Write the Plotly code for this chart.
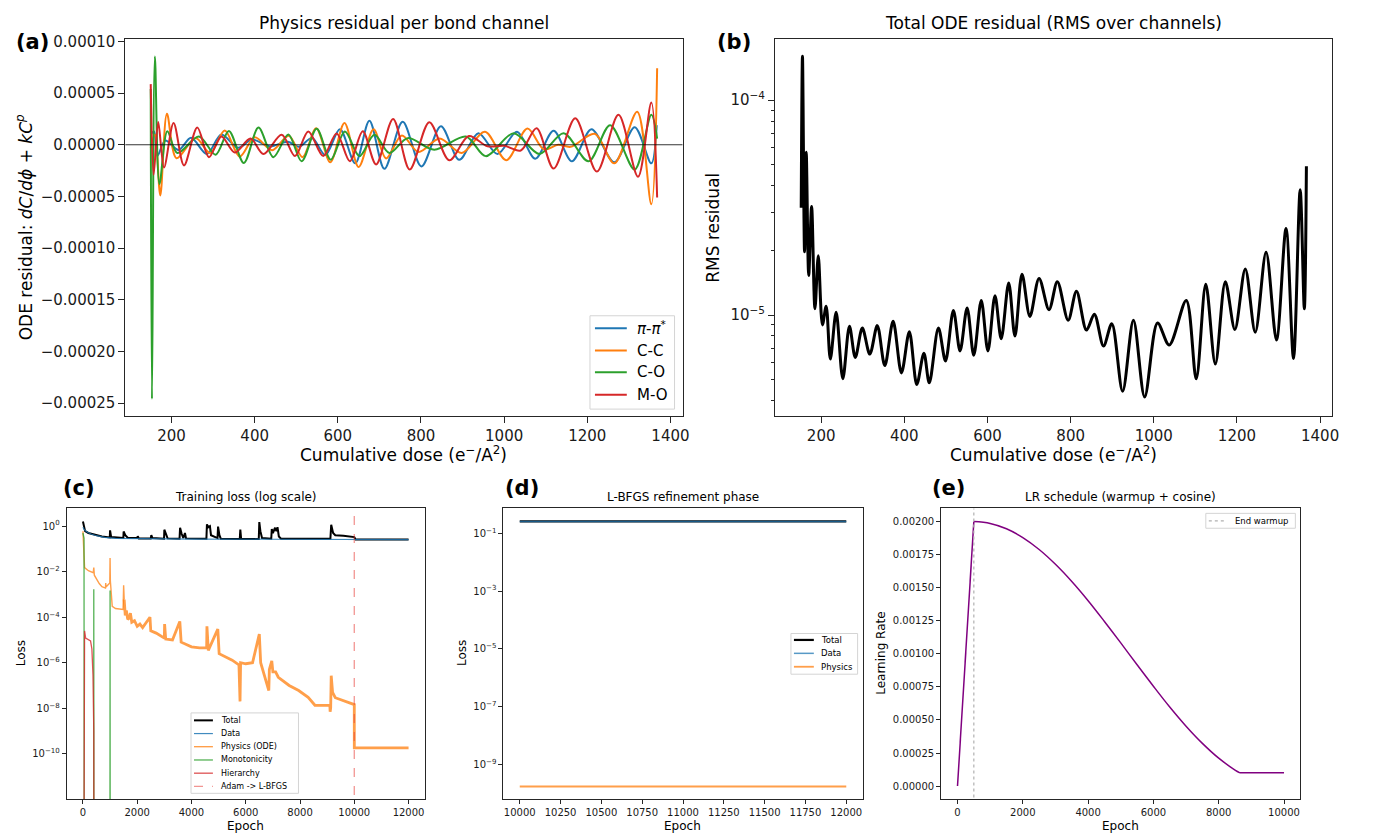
import plotly.graph_objects as go

W, H = 1374, 840
FONT = "DejaVu Sans"
RES_UNIT = 1e-5  # panel (a) values are listed in units of 1e-5

# ---------------- Panel (a): ODE residual per bond channel (x 1e-5) ----------------
pipi_dose = [150, 158, 166, 185, 217, 247, 285, 320, 360, 394, 437, 480, 506, 538, 570, 605, 642, 676,
             712, 756, 801, 848, 892, 938, 984, 1031, 1075, 1119, 1163, 1210, 1265, 1314, 1354, 1367]
pipi_res = [1.0, 1.3, -1.1, 0.4, -0.5, 0.67, -0.9, 1.0, -0.3, 0.5, -0.16, 0.3, -0.2, 0.65, -1.0, 1.5, -1.8, 2.33,
            -2.33, 2.23, -2.1, 1.8, -1.45, 1.12, -0.9, 1.25, -1.35, 1.35, -1.6, 1.5, -1.7, 1.7, -1.8, 1.9]

cc_dose = [150, 160, 173, 189, 212, 258, 293, 328, 364, 400, 442, 482, 515, 548, 582, 616, 650, 686, 716,
           754, 794, 845, 898, 954, 1005, 1056, 1096, 1130, 1160, 1218, 1265, 1320, 1354, 1368]
cc_res = [-0.3, 1.0, -4.9, 3.0, -1.3, 0.65, -0.8, 1.37, -1.15, 0.72, -0.52, 0.88, -1.2, 1.6, -1.7, 2.1, -2.15,
          1.5, -1.32, 0.9, -0.7, 0.6, -0.8, 1.25, -1.5, 1.57, -0.45, 0.0, -0.2, 1.06, -1.8, 3.2, -5.76, 7.4]

co_dose = [150, 153, 160, 171, 190, 214, 266, 306, 338, 374, 409, 445, 481, 513, 549, 583, 617, 652, 688,
           724, 768, 832, 908, 956, 1023, 1085, 1143, 1203, 1255, 1314, 1354, 1368]
co_res = [5.4, -24.6, 8.55, -3.8, 1.3, -0.8, 0.8, -0.96, 1.34, -1.76, 1.66, -1.2, 1.0, -1.6, 1.54, -1.44, 1.28,
          -1.1, 0.96, -0.8, 0.64, -0.48, 0.8, -1.1, 1.12, -0.9, 1.12, -1.6, 1.9, -2.4, 2.9, 0.6]

mo_dose = [150, 157, 168, 182, 205, 230, 262, 290, 320, 352, 390, 421, 465, 497, 529, 565, 597, 629, 660, 692,
           733, 773, 820, 868, 915, 960, 1000, 1040, 1078, 1119, 1171, 1223, 1275, 1322, 1354, 1368]
mo_res = [5.87, -2.9, 2.2, -2.2, 2.1, -2.0, 1.66, -1.2, 0.8, -0.75, 0.6, -0.9, 0.96, -1.1, 1.28, -1.1, 1.1, -1.6,
          1.3, -1.9, 2.5, -2.4, 2.18, -1.5, 0.85, -0.15, -0.1, -0.55, 1.6, -2.3, 2.56, -2.6, 2.9, -3.1, 4.1, -5.1]

channel_names = ["<i>π</i>-<i>π</i><sup>*</sup>", "C-C", "C-O", "M-O"]
channel_colors = ["#1f77b4", "#ff7f0e", "#2ca02c", "#d62728"]

# ---------------- Panel (b): RMS residual ----------------
rms_dose = [152, 155, 160, 164, 170, 177, 185, 193, 203, 212, 222, 236, 252, 268, 282, 299, 317, 335, 353, 373,
            393, 412, 430, 447, 460, 482, 499, 518, 534, 551, 567, 585, 601, 618, 633, 651, 666, 683, 702, 724,
            748, 768, 794, 814, 838, 857, 879, 899, 925, 951, 978, 1009, 1037, 1078, 1102, 1125, 1148, 1172, 1195,
            1220, 1244, 1270, 1295, 1318, 1336, 1352, 1362, 1367]
rms_vals = [3.16e-5, 1.60e-4, 1.97e-5, 5.73e-5, 1.53e-5, 3.2e-5, 1.07e-5, 1.89e-5, 9.0e-6, 1.1e-5, 6.24e-6,
            1.03e-5, 5.05e-6, 8.87e-6, 6.35e-6, 8.7e-6, 6.58e-6, 8.93e-6, 5.82e-6, 9.35e-6, 5.38e-6, 8.36e-6,
            4.75e-6, 6.65e-6, 4.84e-6, 8.7e-6, 6.12e-6, 1.05e-5, 6.81e-6, 1.08e-5, 6.5e-6, 1.17e-5, 6.81e-6,
            1.23e-5, 7.76e-6, 1.41e-5, 7.98e-6, 1.55e-5, 9.86e-6, 1.48e-5, 1.06e-5, 1.43e-5, 9.46e-6, 1.29e-5,
            8.51e-6, 1.01e-5, 7.18e-6, 9.12e-6, 4.42e-6, 9.46e-6, 4.16e-6, 9.19e-6, 7.26e-6, 1.17e-5, 5.05e-6,
            1.39e-5, 5.92e-6, 1.43e-5, 8.57e-6, 1.64e-5, 8.32e-6, 1.96e-5, 7.66e-6, 2.53e-5, 6.28e-6, 3.83e-5,
            1.07e-5, 4.93e-5]

# ---------------- Panel (c): training loss ----------------
total_epoch = [0, 30, 80, 200, 400, 700, 990, 1000, 1040, 1490, 1500, 1560, 1650, 2000, 2020, 2060, 2500, 2520,
               2560, 2990, 3000, 3060, 3120, 3560, 3580, 3640, 3700, 3760, 3800, 4550, 4570, 4620, 4680, 4720,
               4960, 4980, 5030, 5080, 5780, 5800, 5830, 6480, 6500, 6540, 6600, 6940, 6960, 7000, 7080, 7130,
               7170, 7220, 7300, 9120, 9150, 9220, 9300, 9600, 9990, 10000, 10050, 12000]
total_loss = [1.6, 1.0, 0.6, 0.5, 0.42, 0.35, 0.32, 0.65, 0.33, 0.3, 0.58, 0.4, 0.31, 0.3, 0.36, 0.29, 0.29, 0.4,
              0.3, 0.28, 0.7, 0.4, 0.29, 0.28, 0.85, 0.45, 0.3, 0.5, 0.29, 0.28, 1.2, 0.9, 1.0, 0.4, 0.3, 0.95,
              0.4, 0.28, 0.27, 0.7, 0.28, 0.27, 1.5, 0.6, 0.3, 0.28, 0.75, 0.5, 0.85, 0.6, 0.9, 0.35, 0.28, 0.28,
              1.15, 0.5, 0.4, 0.38, 0.35, 0.33, 0.26, 0.26]

data_epoch = [0, 50, 150, 300, 500, 800, 1200, 2000, 4000, 7000, 10000, 12000]
data_loss = [0.9, 0.7, 0.55, 0.45, 0.38, 0.32, 0.29, 0.28, 0.27, 0.265, 0.26, 0.255]

phys_epoch_early = [0, 30, 60, 200, 380, 400, 420, 600, 700, 830, 840, 850, 990, 1000, 1010, 1080, 1200, 1480,
                    1500, 1520]
phys_loss_early = [0.6, 0.1, 0.015, 0.011, 0.009, 0.015, 0.007, 0.003, 0.0022, 0.0019, 0.0032, 0.0021, 0.0032,
                   0.04, 0.004, 0.0003, 0.00024, 0.00022, 0.0025, 0.0006]
phys_epoch_late = [1520, 1560, 1600, 1650, 1700, 1750, 1800, 1900, 2000, 2100, 2200, 2470, 2500, 2700, 3000, 3010,
                   3050, 3300, 3570, 3620, 4000, 4300, 4560, 4570, 4620, 4970, 5020, 5500, 5750, 5790, 5810,
                   6000, 6250, 6500, 6550, 6600, 6850, 6870, 6960, 7000, 7100, 7200, 7600, 7950, 8300, 8550,
                   9100, 9110, 9130, 9150, 9200, 9300, 9700, 10000, 10001, 12000]
phys_loss_late = [0.0006, 1.2e-4, 2e-4, 8e-5, 9e-5, 1.5e-4, 6e-5, 7e-5, 4e-5, 5e-5, 3.5e-5, 1e-4, 2.5e-5, 2e-5,
                  1.2e-5, 5e-5, 1.1e-5, 1.0e-5, 6.5e-5, 8e-6, 5e-6, 4.5e-6, 4.5e-6, 4e-5, 3.5e-6, 3e-5, 2.5e-6,
                  1.3e-6, 8e-7, 2e-8, 1e-6, 9e-7, 1e-6, 1.8e-5, 1e-6, 6e-7, 6e-8, 5e-7, 1.2e-6, 4e-7, 4e-7,
                  2.3e-7, 1e-7, 6e-8, 3e-8, 1.35e-8, 1.35e-8, 7e-9, 1e-8, 2.7e-7, 5e-8, 2.9e-8, 2e-8, 1.45e-8,
                  1.8e-10, 1.8e-10]

mono_epoch = [0, 40, 50, 390, 400, 410, 990, 1000, 1010, 12000]
mono_loss = [0.5, 0.3, 1e-30, 1e-30, 1.7e-3, 1e-30, 1e-30, 1.5e-3, 1e-30, 1e-30]

hier_epoch = [0, 60, 100, 200, 280, 330, 370, 400, 420, 12000]
hier_loss = [1e-30, 2.5e-5, 1.2e-5, 1.0e-5, 9e-6, 4e-6, 3e-7, 1e-9, 1e-30, 1e-30]

switch_epoch = 10000

# ---------------- Panel (d): L-BFGS phase ----------------
lbfgs_epoch = [10000, 10500, 11000, 11500, 12000]
lbfgs_total = [0.257, 0.257, 0.257, 0.257, 0.257]
lbfgs_data = [0.256, 0.256, 0.256, 0.256, 0.256]
lbfgs_phys = [1.75e-10, 1.75e-10, 1.75e-10, 1.75e-10, 1.75e-10]

# ---------------- Panel (e): LR schedule ----------------
lr_epoch = [0, 500, 1000, 1500, 2000, 2500, 3000, 3500, 4000, 4500, 5000, 5500, 6000, 6500, 7000, 7500, 8000,
            8500, 8650, 9000, 9500, 10000]
lr_value = [0.0, 0.002, 0.001986, 0.001946, 0.001879, 0.001789, 0.001677, 0.001547, 0.001402, 0.001245,
            0.001083, 0.000917, 0.000755, 0.000598, 0.000453, 0.000323, 0.000211, 0.000121, 0.0001, 0.0001,
            0.0001, 0.0001]
warmup_end = 500
cosine_end = 8650

# tick labels
a_yt = [-0.00025, -0.0002, -0.00015, -0.0001, -0.00005, 0.0, 0.00005, 0.0001]
a_ytxt = ["−0.00025", "−0.00020", "−0.00015", "−0.00010", "−0.00005", "0.00000", "0.00005", "0.00010"]
dose_ticks = [200, 400, 600, 800, 1000, 1200, 1400]
c_xt = [0, 2000, 4000, 6000, 8000, 10000, 12000]
d_xt = [10000, 10250, 10500, 10750, 11000, 11250, 11500, 11750, 12000]
e_xt = [0, 2000, 4000, 6000, 8000, 10000]
e_yt = [0, 0.00025, 0.0005, 0.00075, 0.001, 0.00125, 0.0015, 0.00175, 0.002]
e_ytxt = ["0.00000", "0.00025", "0.00050", "0.00075", "0.00100", "0.00125", "0.00150", "0.00175", "0.00200"]
b_minor = [4e-6, 5e-6, 6e-6, 7e-6, 8e-6, 9e-6, 2e-5, 3e-5, 4e-5, 5e-5, 6e-5, 7e-5, 8e-5, 9e-5]

# ---------------- helpers ----------------
def px(x):
    return x / W

def py(y):
    return 1 - y / H

AX = "#262626"

def axis(dom, rng, fs, tlen, **kw):
    d = dict(domain=dom, range=rng, showline=True, linecolor=AX, linewidth=1, mirror=True,
             ticks="outside", ticklen=tlen, tickwidth=1, tickcolor=AX, showgrid=False, zeroline=False,
             tickfont=dict(family=FONT, size=fs, color="#1a1a1a"))
    d.update(kw)
    return d

def sup_ticks(exps):
    return [f"10<sup>{'−' if e < 0 else ''}{abs(e)}</sup>" for e in exps]

fig = go.Figure()

# (a)
for name, col, xs, ys in zip(channel_names, channel_colors,
                             [pipi_dose, cc_dose, co_dose, mo_dose],
                             [pipi_res, cc_res, co_res, mo_res]):
    fig.add_trace(go.Scatter(x=xs, y=[v * RES_UNIT for v in ys], mode="lines", name=name, showlegend=False,
                             line=dict(color=col, width=2, shape="spline", smoothing=0.9),
                             xaxis="x", yaxis="y"))

# (b)
fig.add_trace(go.Scatter(x=rms_dose, y=rms_vals, mode="lines", showlegend=False,
                         line=dict(color="black", width=3, shape="spline", smoothing=0.9),
                         xaxis="x2", yaxis="y2"))

# (c)
C_TOTAL = dict(color="black", width=2)
C_DATA = dict(color="#1f77b4", width=1.2)
C_PHYS = dict(color="#ff7f0e", width=1.4)
C_MONO = dict(color="#2ca02c", width=1.3)
C_HIER = dict(color="#d62728", width=1.3)
C_SW = dict(color="#e8403a", width=1.3, dash="dash")

fig.add_trace(go.Scatter(x=total_epoch, y=total_loss, mode="lines", name="Total", showlegend=False,
                         line=C_TOTAL, xaxis="x3", yaxis="y3"))
fig.add_trace(go.Scatter(x=data_epoch, y=data_loss, mode="lines", name="Data", opacity=0.85, showlegend=False,
                         line=C_DATA, xaxis="x3", yaxis="y3"))
fig.add_trace(go.Scatter(x=phys_epoch_early, y=phys_loss_early, mode="lines", name="Physics (ODE)",
                         opacity=0.75, showlegend=False, line=C_PHYS, xaxis="x3", yaxis="y3"))
fig.add_trace(go.Scatter(x=phys_epoch_late, y=phys_loss_late, mode="lines", name="Physics (ODE)",
                         opacity=0.75, showlegend=False, line=dict(color="#ff7f0e", width=2.8),
                         xaxis="x3", yaxis="y3"))
fig.add_trace(go.Scatter(x=mono_epoch, y=mono_loss, mode="lines", name="Monotonicity", opacity=0.8,
                         showlegend=False, line=C_MONO, xaxis="x3", yaxis="y3"))
fig.add_trace(go.Scatter(x=hier_epoch, y=hier_loss, mode="lines", name="Hierarchy", opacity=0.8,
                         showlegend=False, line=C_HIER, xaxis="x3", yaxis="y3"))
fig.add_trace(go.Scatter(x=[switch_epoch, switch_epoch], y=[1e-30, 1e5], mode="lines", name="Adam -> L-BFGS",
                         opacity=0.55, showlegend=False, line=C_SW, xaxis="x3", yaxis="y3"))

# (d)
fig.add_trace(go.Scatter(x=lbfgs_epoch, y=lbfgs_total, mode="lines", name="Total", showlegend=False,
                         line=dict(color="black", width=2.2), xaxis="x4", yaxis="y4"))
fig.add_trace(go.Scatter(x=lbfgs_epoch, y=lbfgs_data, mode="lines", name="Data", opacity=0.75, showlegend=False,
                         line=dict(color="#1f77b4", width=1.5), xaxis="x4", yaxis="y4"))
fig.add_trace(go.Scatter(x=lbfgs_epoch, y=lbfgs_phys, mode="lines", name="Physics", opacity=0.75,
                         showlegend=False, line=dict(color="#ff7f0e", width=1.8), xaxis="x4", yaxis="y4"))

# (e) warmup (linear), cosine decay (smooth), plateau (linear)
i_w = lr_epoch.index(warmup_end)
i_c = lr_epoch.index(cosine_end)
LR_LINE = dict(color="purple", width=1.5)
fig.add_trace(go.Scatter(x=lr_epoch[:i_w + 1], y=lr_value[:i_w + 1], mode="lines", showlegend=False,
                         line=LR_LINE, xaxis="x5", yaxis="y5"))
fig.add_trace(go.Scatter(x=lr_epoch[i_w:i_c + 1], y=lr_value[i_w:i_c + 1], mode="lines", showlegend=False,
                         line=dict(color="purple", width=1.5, shape="spline", smoothing=1.0),
                         xaxis="x5", yaxis="y5"))
fig.add_trace(go.Scatter(x=lr_epoch[i_c:], y=lr_value[i_c:], mode="lines", showlegend=False,
                         line=LR_LINE, xaxis="x5", yaxis="y5"))
fig.add_trace(go.Scatter(x=[warmup_end, warmup_end], y=[-1, 1], mode="lines", name="End warmup",
                         showlegend=False, line=dict(color="#b0b0b0", width=1.2, dash="dot"),
                         xaxis="x5", yaxis="y5"))

# ---------------- layout ----------------
top_y = [py(413), py(33)]
bot_y = [py(799), py(506)]

fig.update_layout(
    width=W, height=H, margin=dict(l=0, r=0, t=0, b=0),
    paper_bgcolor="white", plot_bgcolor="white", showlegend=False,
    font=dict(family=FONT, color="#1a1a1a"),
    xaxis=axis([px(126), px(686)], [89, 1429], 15, 6, anchor="y",
               tickvals=dose_ticks, ticktext=[str(v) for v in dose_ticks]),
    yaxis=axis(top_y, [-0.0002626, 0.0001026], 15, 6, anchor="x", tickvals=a_yt, ticktext=a_ytxt),
    xaxis2=axis([px(779), px(1339)], [89, 1429], 15, 6, anchor="y2",
                tickvals=dose_ticks, ticktext=[str(v) for v in dose_ticks]),
    yaxis2=axis(top_y, [-5.47, -3.714], 15, 6, anchor="x2", type="log",
                tickvals=[1e-5, 1e-4], ticktext=sup_ticks([-5, -4]),
                minor=dict(tickmode="array", tickvals=b_minor, ticks="outside", ticklen=3.5,
                           tickwidth=0.8, tickcolor=AX)),
    xaxis3=axis([px(67), px(427)], [-600, 12600], 10, 4, anchor="y3",
                tickvals=c_xt, ticktext=[str(v) for v in c_xt]),
    yaxis3=axis(bot_y, [-12.0, 0.78], 10, 4, anchor="x3", type="log",
                tickvals=[1e-10, 1e-8, 1e-6, 1e-4, 1e-2, 1],
                ticktext=sup_ticks([-10, -8, -6, -4, -2, 0])),
    xaxis4=axis([px(506), px(867)], [9900, 12100], 10, 4, anchor="y4",
                tickvals=d_xt, ticktext=[str(v) for v in d_xt]),
    yaxis4=axis(bot_y, [-10.2, -0.14], 10, 4, anchor="x4", type="log",
                tickvals=[1e-9, 1e-7, 1e-5, 1e-3, 1e-1],
                ticktext=sup_ticks([-9, -7, -5, -3, -1])),
    xaxis5=axis([px(946), px(1307)], [-500, 10500], 10, 4, anchor="y5",
                tickvals=e_xt, ticktext=[str(v) for v in e_xt]),
    yaxis5=axis(bot_y, [-0.0001, 0.0021], 10, 4, anchor="x5", tickvals=e_yt, ticktext=e_ytxt),
)

# zero line in (a)
fig.add_shape(type="line", xref="x domain", yref="y", x0=0, x1=1, y0=0, y1=0,
              line=dict(color="black", width=0.8))

def text(x, y, s, size, bold=False, angle=0, xanchor="center"):
    fig.add_annotation(x=px(x), y=py(y), xref="paper", yref="paper", text=f"<b>{s}</b>" if bold else s,
                       showarrow=False, textangle=angle, xanchor=xanchor, yanchor="middle",
                       font=dict(family=FONT, size=size, color="black"))

def legend_box(x0, y0, x1, y1, sx0, sx1, tx, rows, labels, styles, size):
    fig.add_shape(type="rect", xref="paper", yref="paper", x0=px(x0), x1=px(x1), y0=py(y1), y1=py(y0),
                  line=dict(color="#d4d4d4", width=1), fillcolor="rgba(255,255,255,0.85)", layer="above")
    for ry, lab, st in zip(rows, labels, styles):
        st = dict(st)
        op = st.pop("opacity", 1.0)
        fig.add_shape(type="line", xref="paper", yref="paper", x0=px(sx0), x1=px(sx1), y0=py(ry), y1=py(ry),
                      line=st, opacity=op, layer="above")
        text(tx, ry, lab, size, xanchor="left")

# legends
legend_box(593, 312, 678, 406, 598, 630, 638, [324.5, 347, 369, 391.5], channel_names,
           [dict(color=c, width=2) for c in channel_colors], 15)
legend_box(192, 712, 300, 793, 195, 214, 220, [719.5, 732.8, 746, 759.4, 772.7, 786],
           ["Total", "Data", "Physics (ODE)", "Monotonicity", "Hierarchy", "Adam -> L-BFGS"],
           [C_TOTAL, dict(C_DATA, opacity=0.85), dict(C_PHYS, opacity=0.75), dict(C_MONO, opacity=0.8),
            dict(C_HIER, opacity=0.8), dict(C_SW, opacity=0.55)], 8)
legend_box(795, 632, 862, 673, 798, 818, 823, [638.5, 652, 665.5], ["Total", "Data", "Physics"],
           [dict(color="black", width=2.2), dict(color="#1f77b4", width=1.5, opacity=0.75),
            dict(color="#ff7f0e", width=1.8, opacity=0.75)], 8.5)
legend_box(1212, 511, 1302, 526, 1215, 1233, 1239, [518.5], ["End warmup"],
           [dict(color="#b0b0b0", width=1.2, dash="dot")], 8.5)

# panel letters
text(33, 36, "(a)", 21, bold=True)
text(738, 36, "(b)", 21, bold=True)
text(79, 485, "(c)", 21, bold=True)
text(525, 485, "(d)", 21, bold=True)
text(953, 485, "(e)", 21, bold=True)

# titles
text(406, 17, "Physics residual per bond channel", 17)
text(1059, 17, "Total ODE residual (RMS over channels)", 17)
text(247, 495, "Training loss (log scale)", 12)
text(686, 495, "L-BFGS refinement phase", 12)
text(1126, 495, "LR schedule (warmup + cosine)", 12)

# axis labels
xl = "Cumulative dose (e<sup>−</sup>/A<sup>2</sup>)"
text(406, 451, xl, 17)
text(1059, 451, xl, 17)
text(25, 223, "ODE residual: <i>dC</i>/<i>dϕ</i> + <i>kC<sup>p</sup></i>", 17, angle=-90)
text(717, 223, "RMS residual", 17, angle=-90)
for cx in (247, 686, 1126):
    text(cx, 826, "Epoch", 12)
text(21, 652, "Loss", 12, angle=-90)
text(465, 652, "Loss", 12, angle=-90)
text(886, 652, "Learning Rate", 12, angle=-90)

fig.write_html("out.html", config={"displayModeBar": False},
               post_script="document.body.style.margin='0';document.body.style.padding='0';"
                           "document.body.style.overflow='hidden';")
